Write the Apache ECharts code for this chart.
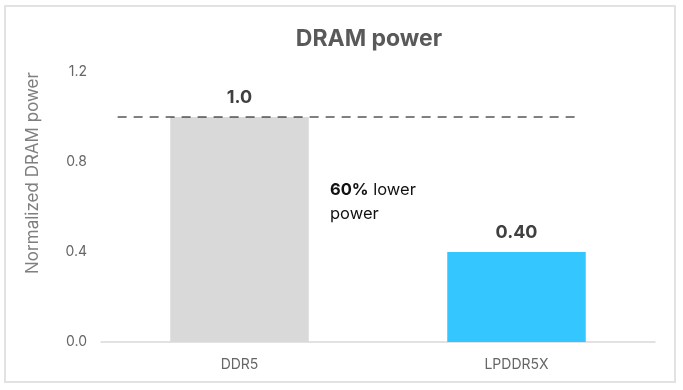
<!DOCTYPE html>
<html>
<head>
<meta charset="utf-8">
<script src="https://cdn.jsdelivr.net/npm/echarts@6/dist/echarts.min.js"></script>
<style>
  html, body { margin: 0; padding: 0; background: #fff; }
  #chart { width: 683px; height: 390px; }
</style>
</head>
<body>
<div id="chart"></div>
<script>
const categories = ['DDR5', 'LPDDR5X'];
const values = [1.0, 0.40];
const valueLabels = ['1.0', '0.40'];
const barColors = ['#d9d9d9', '#33c6ff'];
const yTicks = [0.0, 0.4, 0.8, 1.2];
const refValue = 1.0;
const refLineSpan = [-0.44, 1.22]; // in category units
const titleText = 'DRAM power';
const yName = 'Normalized DRAM power';
const noteBold = '60%';
const noteRest = ' lower';
const noteLine2 = 'power';

const FONT = 'Inter, "Noto Sans", sans-serif';
const chart = echarts.init(document.getElementById('chart'), null, { renderer: 'canvas' });

chart.setOption({
  animation: false,
  backgroundColor: '#fff',
  title: {
    text: titleText,
    left: 364, top: 23,
    textAlign: 'center',
    textStyle: { fontFamily: FONT, fontWeight: 'bold', fontSize: 23, color: '#595959' }
  },
  grid: { left: 101, right: 28, top: 72, bottom: 48 },
  xAxis: [{
    type: 'category',
    data: categories,
    axisLine: { lineStyle: { color: '#d9d9d9', width: 1.5 } },
    axisTick: { show: false },
    axisLabel: { fontFamily: FONT, fontSize: 14, color: '#666666', margin: 16 }
  }, {
    type: 'value',
    min: -0.5, max: 1.5,
    show: false
  }],
  yAxis: {
    type: 'value',
    min: 0, max: 1.2, interval: 0.4,
    splitLine: { show: false },
    axisLine: { show: false },
    axisTick: { show: false },
    axisLabel: {
      fontFamily: FONT, fontSize: 14, color: '#666666', margin: 14,
      formatter: v => yTicks.some(t => Math.abs(t - v) < 1e-9) ? v.toFixed(1) : ''
    }
  },
  series: [{
    type: 'bar',
    xAxisIndex: 0,
    barWidth: '50%',
    data: values.map((v, i) => ({
      value: v,
      itemStyle: { color: barColors[i] },
      label: {
        show: true, position: 'top', distance: 10,
        formatter: valueLabels[i],
        fontFamily: FONT, fontWeight: 'bold', fontSize: 18, color: '#404040'
      }
    }))
  }, {
    type: 'line',
    xAxisIndex: 1,
    symbol: 'none',
    silent: true,
    lineStyle: { color: '#000000', width: 1, type: [9, 7] },
    data: refLineSpan.map(x => [x, refValue]),
    z: 5
  }],
  graphic: [{
    type: 'rect',
    shape: { x: 5, y: 6, width: 670, height: 376 },
    style: { fill: 'none', stroke: '#e2e2e2', lineWidth: 2 },
    silent: true, z: -1
  }, {
    type: 'text',
    x: 33, y: 173,
    rotation: Math.PI / 2,
    style: {
      text: yName, fontFamily: FONT, fontSize: 17, fill: '#7f7f7f',
      align: 'center', verticalAlign: 'middle'
    }
  }, {
    type: 'text',
    x: 330, y: 178,
    style: {
      text: '{b|' + noteBold + '}{r|' + noteRest + '}\n{r|' + noteLine2 + '}',
      rich: {
        b: { fontFamily: FONT, fontWeight: 'bold', fontSize: 16.5, fill: '#111', lineHeight: 24 },
        r: { fontFamily: FONT, fontSize: 16.5, fill: '#111', lineHeight: 24 }
      }
    }
  }]
});
</script>
</body>
</html>
